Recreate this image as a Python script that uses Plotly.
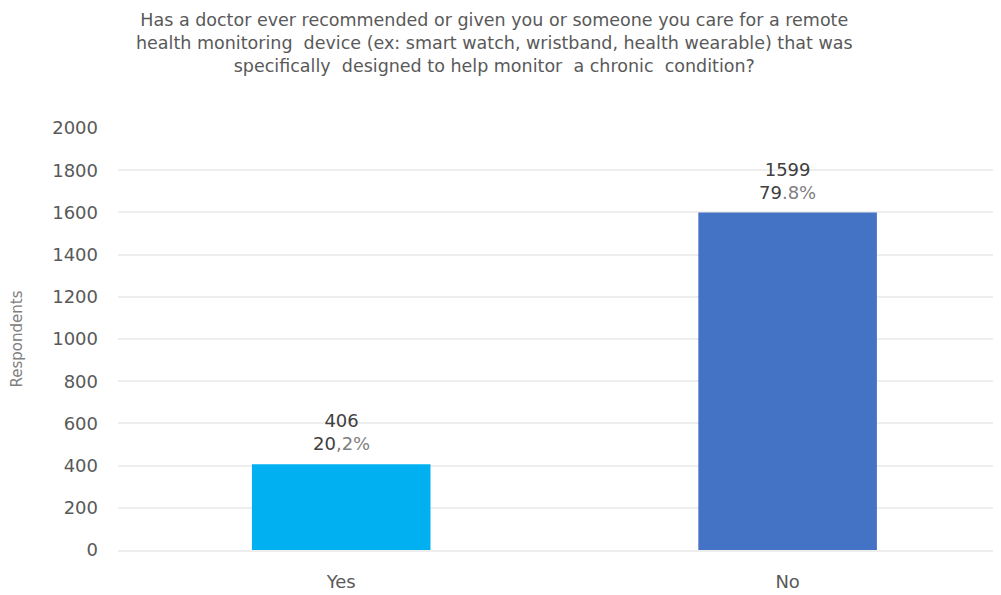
import plotly.graph_objects as go

categories = ["Yes", "No"]
counts = [406, 1599]
pct_main = ["20", "79"]
pct_rest = [",2%", ".8%"]
bar_colors = ["#00B0F0", "#4472C4"]
y_ticks = [0, 200, 400, 600, 800, 1000, 1200, 1400, 1600, 1800, 2000]

title_text = ("Has a doctor ever recommended or given you or someone you care for a remote<br>"
              "health monitoring  device (ex: smart watch, wristband, health wearable) that was<br>"
              "specifically  designed to help monitor  a chronic  condition?")

FONT = "DejaVu Sans"
fig = go.Figure()
fig.add_trace(go.Bar(x=categories, y=counts, marker=dict(color=bar_colors, line=dict(width=0)),
                     width=0.4, hoverinfo="skip"))

for c, v, a, b in zip(categories, counts, pct_main, pct_rest):
    fig.add_annotation(x=c, y=v, xref="x", yref="y", yanchor="bottom", yshift=8, showarrow=False,
                       text=f"<span style='color:#404040'>{v}</span><br>"
                            f"<span style='color:#404040'>{a}</span><span style='color:#7f7f7f'>{b}</span>",
                       font=dict(family=FONT, size=18), align="center")

fig.add_annotation(x=0.426, y=1.0, xref="paper", yref="paper", yanchor="bottom", xanchor="center",
                   yshift=50, showarrow=False, align="center", text=title_text,
                   font=dict(family=FONT, size=17.5, color="#595959"))

fig.update_layout(
    width=993, height=587,
    margin=dict(l=110, r=0, t=120, b=45, autoexpand=False),
    paper_bgcolor="white", plot_bgcolor="white",
    font=dict(family=FONT, color="#595959", size=17),
    showlegend=False,
    xaxis=dict(range=[-0.5, 1.478], showgrid=False, showline=True, linecolor="#EEEEEE", linewidth=2,
               ticks="", tickfont=dict(size=18, color="#595959"), ticklabelstandoff=14,
               automargin=False),
    yaxis=dict(range=[0, 2000], tickvals=y_ticks, showgrid=True, gridcolor="#EEEEEE", gridwidth=2,
               zeroline=False, showline=False, ticks="", tickfont=dict(size=18, color="#595959"),
               ticklabelstandoff=19, automargin=False,
               title=dict(text="Respondents", font=dict(size=15, color="#808080"), standoff=27)),
)

fig.write_html("out.html")
